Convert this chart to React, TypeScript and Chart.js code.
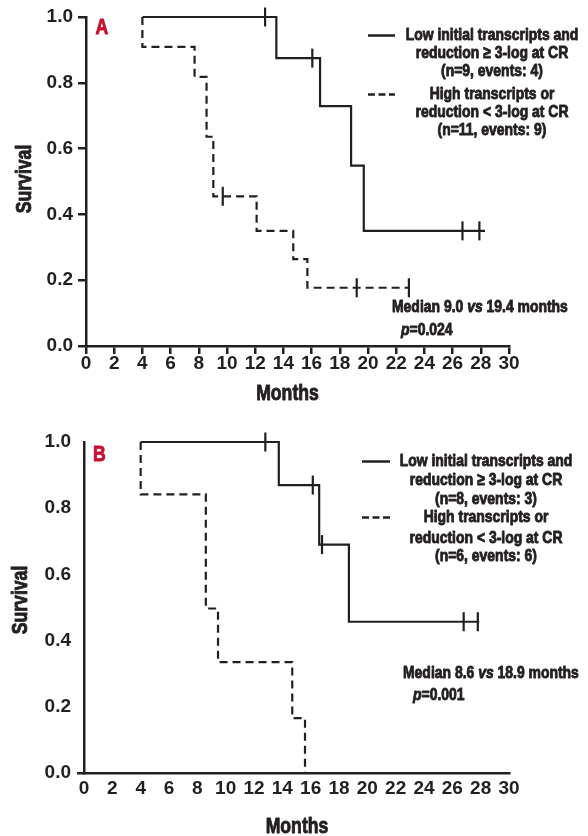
import React, { useEffect, useRef } from 'react';
import { Chart, registerables } from 'chart.js';

Chart.register(...registerables);

const FONT = '"Liberation Sans", Arial, sans-serif';
const SX = 0.82; // horizontal condensing of annotation text (narrow face look)
const INK = '#231f20';
const RED = '#c8102e';

// Shared axes
const monthTicks = [0, 2, 4, 6, 8, 10, 12, 14, 16, 18, 20, 22, 24, 26, 28, 30];
const survivalTicks = [0, 0.2, 0.4, 0.6, 0.8, 1.0];
const xTitle = 'Months';
const yTitle = 'Survival';

// Panel A
const aLowMonths = [4, 13.5, 16.6, 18.8, 19.7, 28.3];
const aLowSurv = [1.0, 0.875, 0.729, 0.548, 0.35, 0.35];
const aLowCensorMonths = [12.7, 16.05, 26.7, 27.9];
const aLowCensorSurv = [1.0, 0.875, 0.35, 0.35];
const aHighMonths = [4, 4, 7.7, 8.55, 9.03, 12.1, 14.7, 15.7, 22.9];
const aHighSurv = [1.0, 0.909, 0.818, 0.636, 0.455, 0.35, 0.264, 0.177, 0.177];
const aHighCensorMonths = [9.7, 19.2, 22.9];
const aHighCensorSurv = [0.455, 0.177, 0.177];
const aLegendLow = ['Low initial transcripts and', 'reduction \u2265 3-log at CR', '(n=9, events: 4)'];
const aLegendHigh = ['High transcripts or', 'reduction < 3-log at CR', '(n=11, events: 9)'];
const aMedian = ['Median 9.0 ', 'vs', ' 19.4 months'];
const aPValue = '=0.024';

// Panel B
const bLowMonths = [4, 13.75, 16.6, 18.7, 27.9];
const bLowSurv = [1.0, 0.87, 0.69, 0.457, 0.457];
const bLowCensorMonths = [12.8, 16.15, 16.8, 26.8, 27.8];
const bLowCensorSurv = [1.0, 0.87, 0.69, 0.457, 0.457];
const bHighMonths = [4, 4, 8.6, 9.46, 14.7, 15.6];
const bHighSurv = [1.0, 0.842, 0.497, 0.335, 0.166, 0];
const bHighCensorMonths: number[] = [];
const bHighCensorSurv: number[] = [];
const bLegendLow = ['Low initial transcripts and', 'reduction \u2265 3-log at CR', '(n=8, events: 3)'];
const bLegendHigh = ['High transcripts or', 'reduction < 3-log at CR', '(n=6, events: 6)'];
const bMedian = ['Median 8.6 ', 'vs', ' 18.9 months'];
const bPValue = '=0.001';

type Geo = {
  left: number; right: number; top: number; bottom: number;
  xTickMarks: boolean; xTickPad: number; yTickPad: number; yTickLen: number; yTickAll: boolean;
  letterX: number; letterY: number;
  legendCx: number; legendLowY: number[]; legendHighY: number[];
  sampleX1: number; sampleX2: number;
  medianX: number; medianY: number; pX: number; pY: number;
  xTitleX: number; xTitleY: number; yTitleX: number; yTitleY: number;
};

type Panel = {
  letter: string;
  lowX: number[]; lowY: number[]; lowCX: number[]; lowCY: number[];
  highX: number[]; highY: number[]; highCX: number[]; highCY: number[];
  legendLow: string[]; legendHigh: string[];
  median: string[]; pValue: string;
  geo: Geo;
};

const W = 588;
const H = 418;

const panelA: Panel = {
  letter: 'A',
  lowX: aLowMonths, lowY: aLowSurv, lowCX: aLowCensorMonths, lowCY: aLowCensorSurv,
  highX: aHighMonths, highY: aHighSurv, highCX: aHighCensorMonths, highCY: aHighCensorSurv,
  legendLow: aLegendLow, legendHigh: aLegendHigh, median: aMedian, pValue: aPValue,
  geo: {
    left: 86, right: 509, top: 17, bottom: 346,
    xTickMarks: true, xTickPad: 0, yTickPad: 5, yTickLen: 8, yTickAll: true,
    letterX: 95.5, letterY: 28.5,
    legendCx: 492, legendLowY: [35.5, 53.5, 71.5], legendHighY: [94.5, 112.5, 130.5],
    sampleX1: 368, sampleX2: 395,
    medianX: 392, medianY: 307.5, pX: 401, pY: 330,
    xTitleX: 287.5, xTitleY: 394.5, yTitleX: 25, yTitleY: 179,
  },
};

const panelB: Panel = {
  letter: 'B',
  lowX: bLowMonths, lowY: bLowSurv, lowCX: bLowCensorMonths, lowCY: bLowCensorSurv,
  highX: bHighMonths, highY: bHighSurv, highCX: bHighCensorMonths, highCY: bHighCensorSurv,
  legendLow: bLegendLow, legendHigh: bLegendHigh, median: bMedian, pValue: bPValue,
  geo: {
    left: 84, right: 509, top: 24, bottom: 355,
    xTickMarks: false, xTickPad: 6, yTickPad: 6, yTickLen: 7, yTickAll: false,
    letterX: 93, letterY: 37.5,
    legendCx: 486, legendLowY: [43.5, 62.5, 81.5], legendHighY: [99.5, 120, 138.5],
    sampleX1: 362, sampleX2: 390,
    medianX: 403, medianY: 255, pX: 413, pY: 277,
    xTitleX: 297, xTitleY: 409.5, yTitleX: 21, yTitleY: 182,
  },
};

function pts(xs: number[], ys: number[]) {
  return xs.map((x, i) => ({ x, y: ys[i] }));
}

function drawText(
  ctx: CanvasRenderingContext2D, text: string, x: number, y: number,
  align: CanvasTextAlign, font: string, color: string, rotate = 0,
) {
  ctx.save();
  ctx.font = font;
  ctx.fillStyle = color;
  ctx.strokeStyle = color;
  ctx.lineWidth = 0.9;
  ctx.lineJoin = 'round';
  ctx.textAlign = align;
  ctx.textBaseline = 'middle';
  ctx.translate(x, y);
  if (rotate) ctx.rotate(rotate);
  ctx.scale(SX, 1);
  ctx.strokeText(text, 0, 0);
  ctx.fillText(text, 0, 0);
  ctx.restore();
}

function textWidth(ctx: CanvasRenderingContext2D, text: string, font: string) {
  ctx.save();
  ctx.font = font;
  const w = ctx.measureText(text).width * SX;
  ctx.restore();
  return w;
}

function buildChart(canvas: HTMLCanvasElement, p: Panel) {
  const g = p.geo;
  const tickFont = { family: FONT, size: 19, weight: 'bold' as const, lineHeight: 1 };
  const fBold = `bold 17px ${FONT}`;
  const fItal = `italic bold 17px ${FONT}`;
  const fBig = `bold 21.5px ${FONT}`;

  const extras = {
    id: 'extras' + p.letter,
    afterDraw(chart: any) {
      const ctx: CanvasRenderingContext2D = chart.ctx;

      drawText(ctx, p.letter, g.letterX, g.letterY, 'left', fBig, RED);
      drawText(ctx, xTitle, g.xTitleX, g.xTitleY, 'center', fBig, INK);
      drawText(ctx, yTitle, g.yTitleX, g.yTitleY, 'center', fBig, INK, -Math.PI / 2);

      p.legendLow.forEach((t, i) => drawText(ctx, t, g.legendCx, g.legendLowY[i], 'center', fBold, INK));
      p.legendHigh.forEach((t, i) => drawText(ctx, t, g.legendCx, g.legendHighY[i], 'center', fBold, INK));

      ctx.save();
      ctx.strokeStyle = INK;
      ctx.lineWidth = 2.5;
      ctx.beginPath();
      ctx.moveTo(g.sampleX1, g.legendLowY[0]);
      ctx.lineTo(g.sampleX2, g.legendLowY[0]);
      ctx.stroke();
      ctx.setLineDash([7, 3.5]);
      ctx.beginPath();
      ctx.moveTo(g.sampleX1, g.legendHighY[0]);
      ctx.lineTo(g.sampleX2, g.legendHighY[0]);
      ctx.stroke();
      ctx.restore();

      let x = g.medianX;
      p.median.forEach((seg, i) => {
        const f = i === 1 ? fItal : fBold;
        drawText(ctx, seg, x, g.medianY, 'left', f, INK);
        x += textWidth(ctx, seg, f);
      });
      drawText(ctx, 'p', g.pX, g.pY, 'left', fItal, INK);
      drawText(ctx, p.pValue, g.pX + textWidth(ctx, 'p', fItal), g.pY, 'left', fBold, INK);
    },
  };

  const lineBase = {
    type: 'line' as const,
    stepped: 'before' as const,
    borderColor: INK,
    borderWidth: 2.2,
    pointRadius: 0,
    fill: false,
    clip: false as const,
    tension: 0,
  };
  const censorBase = {
    type: 'scatter' as const,
    pointStyle: 'line' as const,
    pointRotation: 90,
    pointRadius: 9.5,
    pointBorderWidth: 2.2,
    pointBorderColor: INK,
    pointBackgroundColor: INK,
    borderColor: INK,
    clip: false as const,
  };

  return new Chart(canvas, {
    type: 'line',
    data: {
      datasets: [
        { ...lineBase, label: p.legendLow.join(' '), data: pts(p.lowX, p.lowY) },
        { ...lineBase, label: p.legendHigh.join(' '), data: pts(p.highX, p.highY), borderDash: [8, 5] },
        { ...censorBase, label: 'censored low', data: pts(p.lowCX, p.lowCY) },
        { ...censorBase, label: 'censored high', data: pts(p.highCX, p.highCY) },
      ] as any,
    },
    options: {
      responsive: false,
      animation: false,
      layout: { padding: { left: 0, right: W - g.right, top: g.top, bottom: 0 } },
      plugins: { legend: { display: false }, tooltip: { enabled: false }, title: { display: false } },
      scales: {
        x: {
          type: 'linear',
          position: 'bottom',
          min: 0,
          max: 30,
          afterBuildTicks: (s: any) => { s.ticks = monthTicks.map((v) => ({ value: v })); },
          afterFit: (s: any) => { s.height = H - g.bottom; },
          grid: { display: true, drawOnChartArea: false, drawTicks: g.xTickMarks, tickLength: 8, lineWidth: 2.5, color: INK },
          border: { display: true, color: INK, width: 2.5 },
          ticks: {
            color: INK, font: tickFont, padding: g.xTickPad, maxRotation: 0, autoSkip: false,
            callback: (v: any) => String(v),
          },
        },
        y: {
          type: 'linear',
          position: 'left',
          min: 0,
          max: 1,
          afterBuildTicks: (s: any) => { s.ticks = survivalTicks.map((v) => ({ value: v })); },
          afterFit: (s: any) => { s.width = g.left; },
          grid: {
            display: true,
            drawOnChartArea: false,
            drawTicks: true,
            tickLength: g.yTickLen,
            lineWidth: 2.5,
            color: (c: any) => (g.yTickAll || (c.tick && c.tick.value === 0) ? INK : 'rgba(0,0,0,0)'),
          },
          border: { display: true, color: INK, width: 2.5 },
          ticks: {
            color: INK, font: tickFont, padding: g.yTickPad, autoSkip: false,
            callback: (v: any) => Number(v).toFixed(1),
          },
        },
      },
    } as any,
    plugins: [extras],
  });
}

function PanelChart({ panel, top }: { panel: Panel; top: number }) {
  const ref = useRef<HTMLCanvasElement>(null);
  useEffect(() => {
    const chart = buildChart(ref.current as HTMLCanvasElement, panel);
    return () => chart.destroy();
  }, [panel]);
  return (
    <canvas
      ref={ref}
      width={W}
      height={H}
      style={{ position: 'absolute', left: 0, top, width: W, height: H }}
    />
  );
}

export default function App() {
  return (
    <div style={{ position: 'fixed', left: 0, top: 0, width: W, height: 836, background: '#fff' }}>
      <PanelChart panel={panelA} top={0} />
      <PanelChart panel={panelB} top={H} />
    </div>
  );
}
